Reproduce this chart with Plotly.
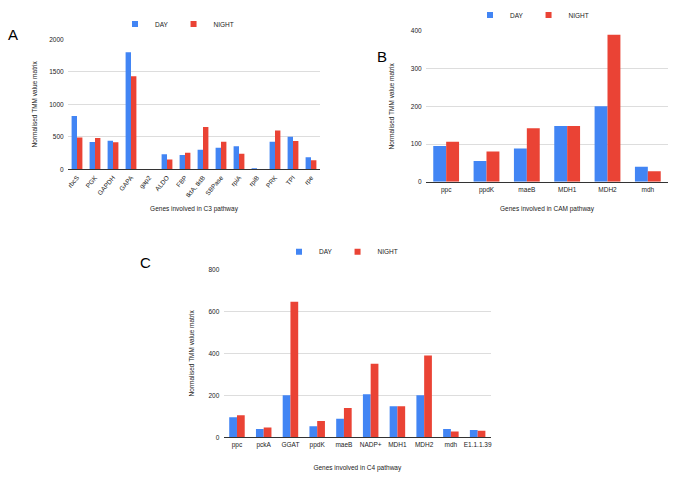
import plotly.graph_objects as go

# Panel A - C3 pathway
c3_genes = ["rbcS", "PGK", "GAPDH", "GAPA", "gap2", "ALDO", "FBP", "tktA, tktB",
            "SBPase", "rpiA", "rpiB", "PRK", "TPI", "rpe"]
c3_day = [820, 420, 440, 1800, 0, 230, 220, 300, 330, 355, 5, 425, 500, 185]
c3_night = [490, 480, 415, 1430, 0, 150, 255, 650, 425, 240, 0, 595, 435, 140]

# Panel B - CAM pathway
cam_genes = ["ppc", "ppdK", "maeB", "MDH1", "MDH2", "mdh"]
cam_day = [95, 55, 88, 148, 200, 40]
cam_night = [106, 80, 142, 148, 390, 28]

# Panel C - C4 pathway
c4_genes = ["ppc", "pckA", "GGAT", "ppdK", "maeB", "NADP+", "MDH1", "MDH2", "mdh", "E1.1.1.39"]
c4_day = [95, 40, 200, 53, 88, 205, 148, 200, 40, 35]
c4_night = [105, 47, 645, 78, 140, 350, 148, 390, 28, 31]

series_names = ["DAY", "NIGHT"]

BLUE = "#4285F4"
RED = "#EA4335"
FONT = "Liberation Sans, Arial, sans-serif"
FS = 6.5
W, H = 685, 477

fig = go.Figure()

panels = [
    ("x", "y", "legend", c3_genes, c3_day, c3_night, 0.30),
    ("x2", "y2", "legend2", cam_genes, cam_day, cam_night, 0.32),
    ("x3", "y3", "legend3", c4_genes, c4_day, c4_night, 0.29),
]
for xa, ya, lg, cats, day, night, w in panels:
    fig.add_trace(go.Bar(x=cats, y=day, name=series_names[0], marker_color=BLUE, xaxis=xa, yaxis=ya,
                         showlegend=False, width=w, offset=-w, marker_line_width=0))
    fig.add_trace(go.Bar(x=cats, y=night, name=series_names[1], marker_color=RED, xaxis=xa, yaxis=ya,
                         showlegend=False, width=w, offset=0, marker_line_width=0))
    for name, col in zip(series_names, [BLUE, RED]):
        fig.add_trace(go.Scatter(x=[None], y=[None], mode="markers", name=name, xaxis=xa, yaxis=ya,
                                 legend=lg, marker=dict(symbol="square", size=6, color=col)))

tickfont = dict(family=FONT, size=FS, color="#222")
titlefont = dict(family=FONT, size=FS, color="#222")

def yax(domain, anchor, rng, dtick, standoff):
    return dict(domain=[1 - domain[1] / H, 1 - domain[0] / H], anchor=anchor, range=rng, dtick=dtick,
                showgrid=True, gridcolor="#dddddd", gridwidth=1, zeroline=False, showline=False,
                tickfont=tickfont, ticks="outside", ticklen=2, tickcolor="rgba(0,0,0,0)",
                automargin=False,
                title=dict(text="Normalised TMM value matrix", font=titlefont, standoff=standoff))

def xax(domain, anchor, title, angle, standoff):
    return dict(domain=[domain[0] / W, domain[1] / W], anchor=anchor, showline=True,
                linecolor="#333333", linewidth=1, showgrid=False, tickfont=tickfont,
                tickangle=angle, ticks="outside", ticklen=1, tickcolor="rgba(0,0,0,0)",
                automargin=False, title=dict(text=title, font=titlefont, standoff=standoff))

legfont = dict(family=FONT, size=FS, color="#222")

def leg(px, py):
    return dict(orientation="h", x=px / W, y=1 - py / H, xanchor="center", yanchor="middle",
                font=legfont, bgcolor="rgba(0,0,0,0)", itemwidth=30, borderwidth=0)

fig.update_layout(
    width=W, height=H,
    margin=dict(l=0, r=0, t=0, b=0, autoexpand=False),
    paper_bgcolor="white", plot_bgcolor="white",
    font=dict(family=FONT, color="#222"),
    showlegend=True,
    barmode="group",
    xaxis=xax([68, 320], "y", "Genes involved in C3 pathway", -50, 8),
    yaxis=yax([39.3, 169.3], "x", [0, 2000], 500, 10),
    xaxis2=xax([426, 668], "y2", "Genes involved in CAM pathway", 0, 13),
    yaxis2=yax([31, 181.7], "x2", [0, 400], 100, 15),
    xaxis3=xax([223.6, 491], "y3", "Genes involved in C4 pathway", 0, 17),
    yaxis3=yax([269.3, 437.3], "x3", [0, 800], 200, 13),
    legend=leg(177, 24),
    legend2=leg(532, 15),
    legend3=leg(341, 251.7),
)

for letter, px, py in [("A", 13, 34), ("B", 382, 57), ("C", 145, 262)]:
    fig.add_annotation(text=letter, x=px / W, y=1 - py / H, xref="paper", yref="paper",
                       showarrow=False, xanchor="center", yanchor="middle",
                       font=dict(family=FONT, size=15, color="black"))

fig.write_html("out.html", config={"displayModeBar": False},
               post_script="document.body.style.margin='0px';")
